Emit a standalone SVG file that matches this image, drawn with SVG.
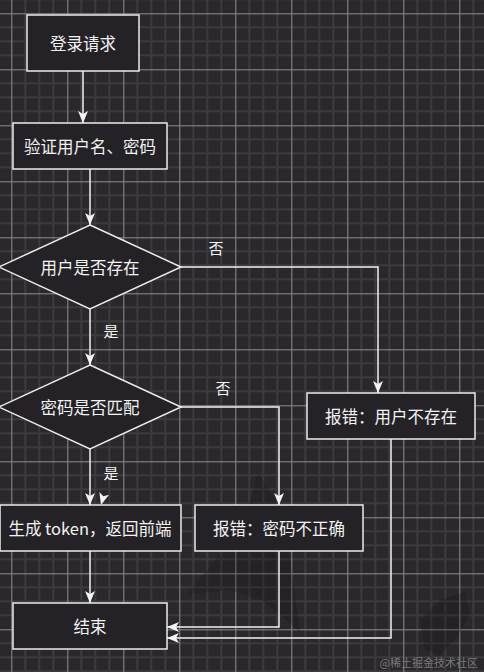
<svg xmlns="http://www.w3.org/2000/svg" width="484" height="672" viewBox="0 0 484 672">
<defs>
<pattern id="grid" patternUnits="userSpaceOnUse" x="11.3" y="13.3" width="56" height="56">
<rect width="56" height="56" fill="#2b282c"/>
<path d="M14,0V56M28,0V56M42,0V56M0,14H56M0,28H56M0,42H56" stroke="#3d3a3f" stroke-width="2" fill="none"/>
<path d="M0.5,0V56M0,0.5H56" stroke="#8e8c91" stroke-width="1" fill="none"/>
</pattern>
<marker id="arr" markerUnits="userSpaceOnUse" viewBox="0 0 12 10" refX="12" refY="5" markerWidth="12" markerHeight="10" orient="auto">
<path d="M0,0 L12,5 L0,10 L3,5 z" fill="#f4f4f4"/>
</marker>
<style>
.n{fill:#252227;stroke:#ececec;stroke-width:1.5}
.t{fill:#f2f2f2;font-family:"Noto Sans CJK SC","Noto Sans",sans-serif;font-size:16.5px;text-anchor:middle;dominant-baseline:central}
.l{fill:#f2f2f2;font-family:"Noto Sans CJK SC","Noto Sans",sans-serif;font-size:15px;text-anchor:middle;dominant-baseline:central}
.e{fill:none;stroke:#f2f2f2;stroke-width:1.5;marker-end:url(#arr)}
</style>
</defs>
<rect width="484" height="672" fill="url(#grid)"/>
<g id="shadows" fill="#101010" opacity="0.22">
<polygon points="258,472 275,500 290,560 300,632 262,600 230,590 188,594 215,560 245,520"/>
<polygon points="465,592 470,615 455,640 440,655 425,650 420,620 440,600"/>
</g>
<g id="connectors">
<path class="e" d="M83,71 L83,123"/>
<path class="e" d="M90,169 L90,225"/>
<path class="e" d="M181,267 L378,267 L378,393"/>
<path class="e" d="M90,309 L90,365"/>
<path class="e" d="M181,407 L279,407 L279,505"/>
<path class="e" d="M90,449 L90,505"/>
<path d="M104,494 L101,505" fill="none" stroke="none" marker-end="url(#arr)"/>
<path class="e" d="M90,551 L90,603"/>
<path class="e" d="M279,551 L279,627 L167,627"/>
<path class="e" d="M391,439 L391,638 L167,638"/>
<text class="l" x="216" y="247">否</text>
<text class="l" x="111" y="330">是</text>
<text class="l" x="223" y="387">否</text>
<text class="l" x="111" y="472">是</text>
</g>
<g id="n1"><rect class="n" x="27" y="15" width="112" height="56"/><text class="t" x="83" y="43">登录请求</text></g>
<g id="n2"><rect class="n" x="13" y="123" width="154" height="46"/><text class="t" x="90" y="146">验证用户名、密码</text></g>
<g id="n3"><polygon class="n" points="90,225 181,267 90,309 -1,267"/><text class="t" x="90" y="267">用户是否存在</text></g>
<g id="n4"><polygon class="n" points="90,365 181,407 90,449 -1,407"/><text class="t" x="90" y="407">密码是否匹配</text></g>
<g id="n5"><rect class="n" x="307" y="393" width="168" height="46"/><text class="t" x="391" y="416">报错：用户不存在</text></g>
<g id="n6"><rect class="n" x="0" y="505" width="181" height="46"/><text class="t" x="90" y="528">生成 token，返回前端</text></g>
<g id="n7"><rect class="n" x="195" y="505" width="168" height="46"/><text class="t" x="279" y="528">报错：密码不正确</text></g>
<g id="n8"><rect class="n" x="13" y="603" width="154" height="46"/><text class="t" x="90" y="626">结束</text></g>
<text x="478" y="662" fill="#7a787d" font-family="'Noto Sans CJK SC','Noto Serif CJK SC',serif" font-size="11" text-anchor="end" dominant-baseline="central">@稀土掘金技术社区</text>
</svg>
